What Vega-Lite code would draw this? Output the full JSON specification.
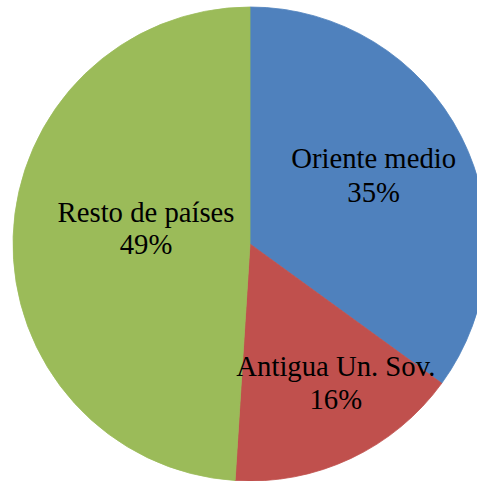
{
  "$schema": "https://vega.github.io/schema/vega-lite/v6.json",
  "autosize": "none",
  "width": 454,
  "height": 474,
  "padding": {"left": 23, "top": 7, "right": 0, "bottom": 0},
  "background": "white",
  "view": {"stroke": null},
  "data": {
    "values": [
      {"pais": "Oriente medio", "valor": 35, "orden": 1},
      {"pais": "Antigua Un. Sov.", "valor": 16, "orden": 2},
      {"pais": "Resto de países", "valor": 49, "orden": 3}
    ]
  },
  "transform": [
    {"calculate": "[datum.pais, datum.valor + '%']", "as": "etiqueta"}
  ],
  "encoding": {
    "theta": {"field": "valor", "type": "quantitative", "stack": true},
    "order": {"field": "orden", "type": "quantitative"}
  },
  "layer": [
    {
      "mark": {"type": "arc", "radius": 237, "strokeWidth": 0.8},
      "encoding": {
        "color": {
          "field": "pais",
          "type": "nominal",
          "scale": {
            "domain": ["Oriente medio", "Antigua Un. Sov.", "Resto de países"],
            "range": ["#4F81BD", "#C0504D", "#9BBB59"]
          },
          "legend": null
        },
        "stroke": {
          "field": "pais",
          "type": "nominal",
          "scale": {
            "domain": ["Oriente medio", "Antigua Un. Sov.", "Resto de países"],
            "range": ["#4F81BD", "#C0504D", "#9BBB59"]
          },
          "legend": null
        }
      }
    },
    {
      "mark": {"type": "text", "radius": 141, "dx": -2, "dy": -21, "font": "Times New Roman, Liberation Serif, serif", "fontSize": 28.7, "lineHeight": 34, "align": "center", "baseline": "middle"},
      "encoding": {
        "detail": {"field": "pais", "type": "nominal"},
        "color": {"value": "black"},
        "text": {"condition": {"test": "datum.pais === 'Oriente medio'", "field": "etiqueta"}, "value": ""}
      }
    },
    {
      "mark": {"type": "text", "radius": 164, "dx": 16, "dy": -25, "font": "Times New Roman, Liberation Serif, serif", "fontSize": 28.7, "lineHeight": 33, "align": "center", "baseline": "middle"},
      "encoding": {
        "detail": {"field": "pais", "type": "nominal"},
        "color": {"value": "black"},
        "text": {"condition": {"test": "datum.pais === 'Antigua Un. Sov.'", "field": "etiqueta"}, "value": ""}
      }
    },
    {
      "mark": {"type": "text", "radius": 104, "dx": 0, "dy": -28, "font": "Times New Roman, Liberation Serif, serif", "fontSize": 28.7, "lineHeight": 32, "align": "center", "baseline": "middle"},
      "encoding": {
        "detail": {"field": "pais", "type": "nominal"},
        "color": {"value": "black"},
        "text": {"condition": {"test": "datum.pais === 'Resto de países'", "field": "etiqueta"}, "value": ""}
      }
    }
  ]
}
